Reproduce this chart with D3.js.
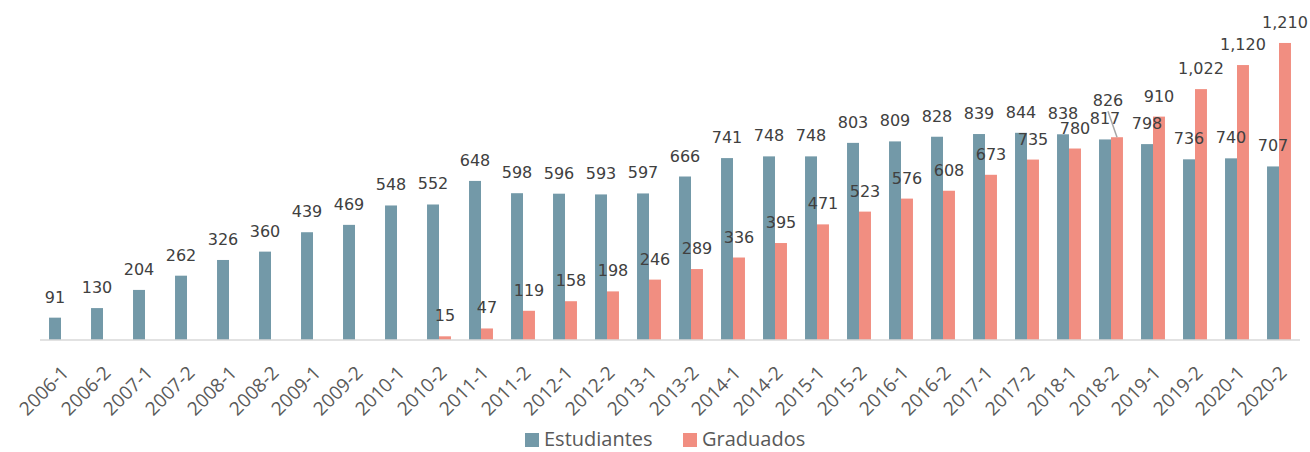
<!DOCTYPE html>
<html lang="es">
<head>
  <meta charset="UTF-8">
  <title>Estudiantes y Graduados</title>
  <script src="https://d3js.org/d3.v7.min.js"></script>
  <style>
    body { margin: 0; background: #fff; }
    .value-label { font-family: "DejaVu Sans", sans-serif; font-size: 16px; fill: #404040; }
    .x-axis text { font-family: "Open Sans", sans-serif; font-size: 19px; fill: #595959; }
    .legend text { font-family: "Open Sans", sans-serif; font-size: 20px; fill: #595959; }
  </style>
</head>
<body>
<svg id="chart" width="1310" height="452"></svg>
<script>
  // ——— data ———
  const periods = [
    "2006-1","2006-2","2007-1","2007-2","2008-1","2008-2","2009-1","2009-2","2010-1","2010-2",
    "2011-1","2011-2","2012-1","2012-2","2013-1","2013-2","2014-1","2014-2","2015-1","2015-2",
    "2016-1","2016-2","2017-1","2017-2","2018-1","2018-2","2019-1","2019-2","2020-1","2020-2"
  ];
  const estudiantes = [
    91, 130, 204, 262, 326, 360, 439, 469, 548, 552,
    648, 598, 596, 593, 597, 666, 741, 748, 748, 803,
    809, 828, 839, 844, 838, 817, 798, 736, 740, 707
  ];
  const graduados = [
    null, null, null, null, null, null, null, null, null, 15,
    47, 119, 158, 198, 246, 289, 336, 395, 471, 523,
    576, 608, 673, 735, 780, 826, 910, 1022, 1120, 1210
  ];
  const seriesNames = ["Estudiantes", "Graduados"];

  const COLORS = { Estudiantes: "#7399a8", Graduados: "#f18e81" };

  const svg = d3.select("#chart");
  const plot = { left: 40, right: 1300, top: 0, bottom: 340 };

  const x = d3.scaleBand()
    .domain(periods)
    .range([plot.left, plot.right])
    .paddingInner(0.43)
    .paddingOuter(0.215);

  const xs = d3.scaleBand()
    .domain(seriesNames)
    .range([0, x.bandwidth()]);

  const y = d3.scaleLinear()
    .domain([0, 1385])
    .range([plot.bottom, plot.top]);

  const rows = periods.map((p, i) => ({
    period: p,
    values: [
      { key: "Estudiantes", value: estudiantes[i] },
      { key: "Graduados", value: graduados[i] }
    ].filter(d => d.value != null)
  }));

  // bars
  const groups = svg.append("g").selectAll("g")
    .data(rows)
    .join("g")
    .attr("transform", d => `translate(${x(d.period)},0)`);

  groups.selectAll("rect")
    .data(d => d.values)
    .join("rect")
    .attr("x", d => xs(d.key))
    .attr("y", d => y(d.value))
    .attr("width", xs.bandwidth())
    .attr("height", d => y(0) - y(d.value))
    .attr("fill", d => COLORS[d.key]);

  // axis line
  svg.append("line")
    .attr("x1", plot.left).attr("x2", plot.right)
    .attr("y1", y(0)).attr("y2", y(0))
    .attr("stroke", "#d9d9d9")
    .attr("stroke-width", 1.5);

  // value labels (826 was nudged up-left in the original, with a leader line)
  const fmt = d3.format(",");
  const nudged = { "2018-2|Graduados": [-9, -16] };

  groups.each(function(row) {
    const g = d3.select(this);
    row.values.forEach(d => {
      const cx = xs(d.key) + xs.bandwidth() / 2;
      const ty = y(d.value) - 15;
      const off = nudged[row.period + "|" + d.key] || [0, 0];
      if (off[1] !== 0) {
        g.append("line")
          .attr("x1", cx + off[0]).attr("y1", ty + off[1] + 5)
          .attr("x2", cx).attr("y2", y(d.value))
          .attr("stroke", "#a6a6a6")
          .attr("stroke-width", 1.5);
      }
      g.append("text")
        .attr("class", "value-label")
        .attr("x", cx + off[0])
        .attr("y", ty + off[1])
        .attr("text-anchor", "middle")
        .text(fmt(d.value));
    });
  });

  // x labels, rotated
  const xAxis = svg.append("g").attr("class", "x-axis");
  xAxis.selectAll("text")
    .data(periods)
    .join("text")
    .attr("text-anchor", "end")
    .attr("transform", d => `translate(${x(d) + x.bandwidth() / 2 + 9},${374}) rotate(-45)`)
    .text(d => d);

  // legend
  const legend = svg.append("g").attr("class", "legend");
  const legendItems = [
    { key: "Estudiantes", x: 525 },
    { key: "Graduados", x: 683 }
  ];
  legendItems.forEach(it => {
    legend.append("rect")
      .attr("x", it.x).attr("y", 433)
      .attr("width", 14).attr("height", 14)
      .attr("fill", COLORS[it.key]);
    legend.append("text")
      .attr("x", it.x + 19).attr("y", 446)
      .text(it.key);
  });
</script>
</body>
</html>
